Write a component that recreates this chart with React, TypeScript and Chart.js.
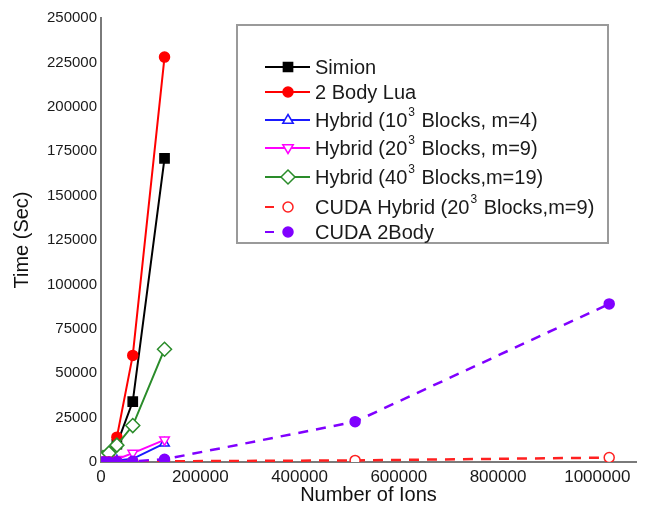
import React, { useEffect, useRef } from "react";
import { Chart, registerables } from "chart.js";

Chart.register(...registerables);

// ---- data ----
const xSimion = [8000, 16000, 32000, 64000, 128000];
const ySimion = [400, 2500, 10000, 34000, 171000];
const xLua = [8000, 16000, 32000, 64000, 128000];
const yLua = [600, 3500, 14000, 60000, 228000];
const xHybrid10 = [4000, 8000, 16000, 32000, 64000, 128000];
const yHybrid10 = [100, 200, 400, 800, 1800, 10500];
const xHybrid20 = [4000, 8000, 16000, 32000, 64000, 128000];
const yHybrid20 = [200, 400, 900, 1600, 5000, 12500];
const xHybrid40 = [4000, 16000, 32000, 64000, 128000];
const yHybrid40 = [2500, 5000, 9500, 20500, 63500];
const xCudaHybrid = [4000, 8000, 16000, 32000, 64000, 128000, 512000, 1024000];
const yCudaHybrid = [30, 50, 80, 120, 200, 400, 900, 2500];
const xCuda2Body = [4000, 8000, 16000, 32000, 64000, 128000, 512000, 1024000];
const yCuda2Body = [10, 20, 60, 200, 400, 1500, 22700, 89000];

const seriesNames = [
  "Simion",
  "2 Body Lua",
  "Hybrid (10³ Blocks, m=4)",
  "Hybrid (20³ Blocks, m=9)",
  "Hybrid (40³ Blocks,m=19)",
  "CUDA Hybrid (20³ Blocks,m=9)",
  "CUDA 2Body",
];
const xTickValues = [0, 200000, 400000, 600000, 800000, 1000000];
const yTickValues = [0, 25000, 50000, 75000, 100000, 125000, 150000, 175000, 200000, 225000, 250000];

const FONT = '"Liberation Sans", Arial, sans-serif';

type Style = {
  color: string;
  shape: "rect" | "circle" | "tri" | "triDown" | "diamond";
  fill: string;
  radius: number;
  dash: number[];
  width: number;
};

const styles: Style[] = [
  { color: "#000000", shape: "rect", fill: "#000000", radius: 6.5, dash: [], width: 2 },
  { color: "#ff0000", shape: "circle", fill: "#ff0000", radius: 5, dash: [], width: 2 },
  { color: "#1a1aff", shape: "tri", fill: "#ffffff", radius: 5.5, dash: [], width: 2 },
  { color: "#ff00ff", shape: "triDown", fill: "#ffffff", radius: 5.5, dash: [], width: 2 },
  { color: "#2a8c2a", shape: "diamond", fill: "#ffffff", radius: 7, dash: [], width: 2 },
  { color: "#ff2020", shape: "circle", fill: "#ffffff", radius: 5, dash: [10, 8], width: 2.5 },
  { color: "#8000ff", shape: "circle", fill: "#8000ff", radius: 5, dash: [10, 8], width: 2.5 },
];

const pointStyleMap: Record<string, string> = {
  rect: "rect",
  circle: "circle",
  tri: "triangle",
  triDown: "triangle",
  diamond: "rectRot",
};

function zip(xs: number[], ys: number[]) {
  return xs.map((x, i) => ({ x, y: ys[i] }));
}

const seriesData = [
  zip(xSimion, ySimion),
  zip(xLua, yLua),
  zip(xHybrid10, yHybrid10),
  zip(xHybrid20, yHybrid20),
  zip(xHybrid40, yHybrid40),
  zip(xCudaHybrid, yCudaHybrid),
  zip(xCuda2Body, yCuda2Body),
];

function drawMarker(ctx: CanvasRenderingContext2D, s: Style, x: number, y: number) {
  const r = s.radius;
  ctx.save();
  ctx.setLineDash([]);
  ctx.lineWidth = 1.5;
  ctx.strokeStyle = s.color;
  ctx.fillStyle = s.fill;
  ctx.beginPath();
  if (s.shape === "circle") {
    ctx.arc(x, y, r, 0, Math.PI * 2);
  } else if (s.shape === "rect") {
    const h = r * Math.SQRT1_2;
    ctx.rect(x - h, y - h, 2 * h, 2 * h);
  } else if (s.shape === "tri") {
    ctx.moveTo(x, y - r);
    ctx.lineTo(x + r * 0.95, y + r * 0.6);
    ctx.lineTo(x - r * 0.95, y + r * 0.6);
    ctx.closePath();
  } else if (s.shape === "triDown") {
    ctx.moveTo(x, y + r);
    ctx.lineTo(x + r * 0.95, y - r * 0.6);
    ctx.lineTo(x - r * 0.95, y - r * 0.6);
    ctx.closePath();
  } else if (s.shape === "diamond") {
    ctx.moveTo(x, y - r);
    ctx.lineTo(x + r, y);
    ctx.lineTo(x, y + r);
    ctx.lineTo(x - r, y);
    ctx.closePath();
  }
  ctx.fill();
  ctx.stroke();
  ctx.restore();
}

const legendPlugin = {
  id: "customLegend",
  afterDraw(chart: any) {
    const ctx: CanvasRenderingContext2D = chart.ctx;
    ctx.save();
    const bx = 237, by = 25, bw = 371, bh = 218;
    ctx.fillStyle = "#ffffff";
    ctx.fillRect(bx, by, bw, bh);
    ctx.strokeStyle = "#9a9a9a";
    ctx.lineWidth = 2;
    ctx.strokeRect(bx, by, bw, bh);
    const rows = [67, 92, 120, 148, 177, 207, 232];
    seriesNames.forEach((name, i) => {
      const s = styles[i];
      const y = rows[i];
      ctx.save();
      ctx.strokeStyle = s.color;
      ctx.lineWidth = 2;
      if (s.dash.length) {
        ctx.beginPath();
        ctx.moveTo(265, y);
        ctx.lineTo(274, y);
        ctx.stroke();
      } else {
        ctx.beginPath();
        ctx.moveTo(265, y);
        ctx.lineTo(310, y);
        ctx.stroke();
      }
      ctx.restore();
      drawMarker(ctx, s, 288, y);
      // text with superscript
      const parts = name.split("³");
      let x = 315;
      ctx.fillStyle = "#1a1a1a";
      ctx.textBaseline = "middle";
      ctx.textAlign = "left";
      parts.forEach((p, k) => {
        ctx.font = `20px ${FONT}`;
        ctx.fillText(p, x, y + 1);
        x += ctx.measureText(p).width;
        if (k < parts.length - 1) {
          ctx.font = `12px ${FONT}`;
          ctx.fillText("3", x + 1, y - 7);
          x += ctx.measureText("3").width + 2;
        }
      });
    });
    ctx.restore();
  },
};

export default function App() {
  const ref = useRef<HTMLCanvasElement | null>(null);
  useEffect(() => {
    if (!ref.current) return;
    const chart = new Chart(ref.current, {
      type: "scatter",
      data: {
        datasets: seriesData.map((d, i) => ({
          label: seriesNames[i],
          data: d,
          showLine: true,
          borderColor: styles[i].color,
          backgroundColor: styles[i].fill,
          borderWidth: styles[i].width,
          borderDash: styles[i].dash,
          pointStyle: pointStyleMap[styles[i].shape] as any,
          pointRotation: styles[i].shape === "triDown" ? 180 : 0,
          pointRadius: styles[i].radius,
          pointBorderWidth: 1.5,
          pointBorderColor: styles[i].color,
          pointBackgroundColor: styles[i].fill,
          order: 7 - i,
        })),
      },
      options: {
        animation: false,
        responsive: false,
        maintainAspectRatio: false,
        layout: { padding: { top: 18, right: 11, left: 0, bottom: 0 } },
        plugins: { legend: { display: false }, tooltip: { enabled: false } },
        scales: {
          x: {
            type: "linear",
            min: 0,
            max: 1078000,
            afterBuildTicks: (s: any) => {
              s.ticks = xTickValues.map((v) => ({ value: v }));
            },
            afterFit: (s: any) => {
              s.height = 47;
            },
            grid: { display: false, drawTicks: false, tickLength: 0 },
            border: { display: true, color: "#7a7a7a", width: 2 },
            ticks: {
              padding: 5,
              maxRotation: 0,
              autoSkip: false,
              color: "#1a1a1a",
              font: { family: FONT, size: 17 },
              callback: (v: any) => String(v),
            },
            title: {
              display: true,
              text: "Number of Ions",
              color: "#111",
              font: { family: FONT, size: 20 },
              padding: { top: 0, bottom: 2 },
            },
          },
          y: {
            type: "linear",
            min: 0,
            max: 250000,
            afterBuildTicks: (s: any) => {
              s.ticks = yTickValues.map((v) => ({ value: v }));
            },
            afterFit: (s: any) => {
              s.width = 101;
            },
            grid: { display: false, drawTicks: false, tickLength: 0 },
            border: { display: true, color: "#7a7a7a", width: 2 },
            ticks: {
              padding: 4,
              autoSkip: false,
              color: "#1a1a1a",
              font: { family: FONT, size: 15 },
              callback: (v: any) => String(v),
            },
            title: {
              display: true,
              text: "Time (Sec)",
              color: "#111",
              font: { family: FONT, size: 20 },
              padding: { top: 10, bottom: 0 },
            },
          },
        },
      },
      plugins: [legendPlugin],
    });
    return () => chart.destroy();
  }, []);
  return (
    <div style={{ position: "fixed", left: 0, top: 0, width: 647, height: 509, background: "#fff" }}>
      <canvas ref={ref} width={647} height={509} style={{ width: 647, height: 509 }} />
    </div>
  );
}
